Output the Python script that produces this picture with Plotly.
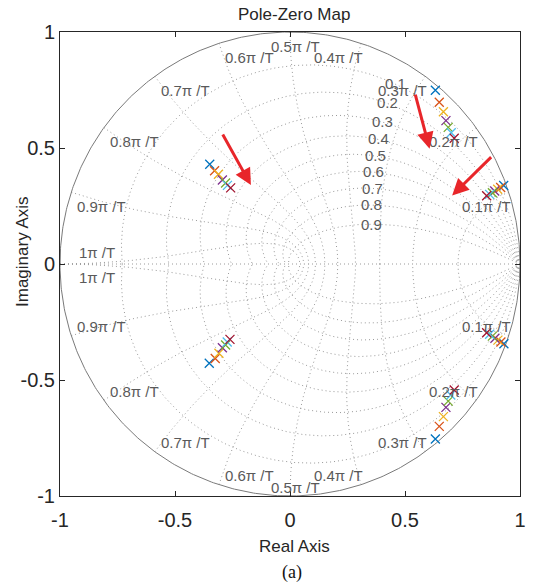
import numpy as np
import plotly.graph_objects as go

# ---------------- data ----------------
series_colors = ["#0072BD", "#D95319", "#EDB120", "#7E2F8E", "#77AC30", "#4DBEEE", "#A2142F"]

# pole group A (near 0.2pi/T .. 0.3pi/T)
polesA_up_re = [0.632, 0.649, 0.667, 0.678, 0.688, 0.701, 0.714]
polesA_up_im = [0.749, 0.697, 0.656, 0.618, 0.589, 0.566, 0.542]
polesA_lo_re = [0.632, 0.649, 0.667, 0.678, 0.688, 0.699, 0.714]
polesA_lo_im = [-0.754, -0.700, -0.658, -0.618, -0.591, -0.565, -0.543]
# pole group B (near 0.1pi/T)
polesB_up_re = [0.929, 0.916, 0.903, 0.890, 0.880, 0.868, 0.855]
polesB_up_im = [0.338, 0.330, 0.322, 0.315, 0.307, 0.300, 0.294]
polesB_lo_re = [0.930, 0.917, 0.904, 0.891, 0.880, 0.868, 0.855]
polesB_lo_im = [-0.344, -0.336, -0.328, -0.320, -0.311, -0.303, -0.296]
# pole group C (left half)
polesC_up_re = [-0.349, -0.328, -0.311, -0.294, -0.280, -0.272, -0.258]
polesC_up_im = [0.430, 0.402, 0.387, 0.362, 0.349, 0.339, 0.328]
polesC_lo_re = [-0.351, -0.325, -0.309, -0.294, -0.280, -0.273, -0.261]
polesC_lo_im = [-0.428, -0.407, -0.385, -0.361, -0.349, -0.336, -0.325]

zeta_values = [0.1, 0.2, 0.3, 0.4, 0.5, 0.6, 0.7, 0.8, 0.9]
wn_values = [0.1, 0.2, 0.3, 0.4, 0.5, 0.6, 0.7, 0.8, 0.9, 1.0]   # multiples of pi/T
wn_labels = ["0.1", "0.2", "0.3", "0.4", "0.5", "0.6", "0.7", "0.8", "0.9", "1"]

tick_vals = [-1, -0.5, 0, 0.5, 1]
tick_text = ["-1", "-0.5", "0", "0.5", "1"]

# arrows: (tail_re, tail_im, head_re, head_im)
arrow_tail_re = [-0.296, 0.543, 0.881]
arrow_tail_im = [0.565, 0.737, 0.467]
arrow_head_re = [-0.170, 0.607, 0.705]
arrow_head_im = [0.340, 0.497, 0.295]

# ---------------- styles ----------------
GRID = "#9a9a9a"
GRID_TXT = "#5a5a5a"
AX = "#262626"
FONT = "Liberation Sans, Arial, sans-serif"

fig = go.Figure()

def add_line(x, y, color=GRID, dash="1px,3px", width=1):
    fig.add_trace(go.Scatter(x=x, y=y, mode="lines", hoverinfo="skip", showlegend=False,
                             line=dict(color=color, width=width, dash=dash)))

# real axis
add_line([-1, 1], [0, 0])

# damping ratio curves
th = np.linspace(0, np.pi, 400)
for z in zeta_values:
    r = np.exp(-z * th / np.sqrt(1 - z * z))
    xs = list(r * np.cos(th)) + [None] + list(r * np.cos(th))
    ys = list(r * np.sin(th)) + [None] + list(-r * np.sin(th))
    add_line(xs, ys)

# natural frequency curves
zz = np.linspace(0, 1, 300)
for w in wn_values:
    s = w * np.pi * (-zz + 1j * np.sqrt(1 - zz * zz))
    p = np.exp(s)
    xs = list(p.real) + [None] + list(p.real)
    ys = list(p.imag) + [None] + list(-p.imag)
    add_line(xs, ys)

# unit circle
tc = np.linspace(0, 2 * np.pi, 600)
add_line(np.cos(tc), np.sin(tc), color="#7a7a7a", dash="solid", width=1)

# poles
for i, c in enumerate(series_colors):
    xs = [polesA_up_re[i], polesA_lo_re[i], polesB_up_re[i], polesB_lo_re[i], polesC_up_re[i], polesC_lo_re[i]]
    ys = [polesA_up_im[i], polesA_lo_im[i], polesB_up_im[i], polesB_lo_im[i], polesC_up_im[i], polesC_lo_im[i]]
    fig.add_trace(go.Scatter(x=xs, y=ys, mode="markers", showlegend=False,
                             marker=dict(symbol="x-thin", size=9, color=c, line=dict(color=c, width=1.3))))

annotations = []
# natural frequency labels
for w, lab in zip(wn_values, wn_labels):
    a = w * np.pi
    cx, cy = np.cos(a), np.sin(a)
    txt = lab + "π /T"
    if w < 0.5:
        xa = "right"; xs_ = 4
    elif w == 0.5:
        xa = "center"; xs_ = 5
    else:
        xa = "left"; xs_ = 4
    if w == 1.0:
        xs_ = 17
        annotations.append(dict(x=cx, y=cy, xref="x", yref="y", text=txt, showarrow=False,
                                xanchor=xa, yanchor="bottom", xshift=xs_, yshift=1,
                                font=dict(family=FONT, size=15, color=GRID_TXT)))
        annotations.append(dict(x=cx, y=-cy, xref="x", yref="y", text=txt, showarrow=False,
                                xanchor=xa, yanchor="top", xshift=xs_, yshift=-3,
                                font=dict(family=FONT, size=15, color=GRID_TXT)))
        continue
    annotations.append(dict(x=cx, y=cy, xref="x", yref="y", text=txt, showarrow=False,
                            xanchor=xa, yanchor="middle", xshift=xs_, yshift=-14,
                            font=dict(family=FONT, size=15, color=GRID_TXT)))
    annotations.append(dict(x=cx, y=-cy, xref="x", yref="y", text=txt, showarrow=False,
                            xanchor=xa, yanchor="middle", xshift=xs_, yshift=9,
                            font=dict(family=FONT, size=15, color=GRID_TXT)))

# damping labels
for z in zeta_values:
    wt = 0.335 * np.pi
    thz = wt * np.sqrt(1 - z * z)
    r = np.exp(-z * wt)
    annotations.append(dict(x=r * np.cos(thz), y=r * np.sin(thz), xref="x", yref="y",
                            text=f"{z:g}", showarrow=False, xanchor="center", yanchor="middle",
                            xshift=2, font=dict(family=FONT, size=15, color=GRID_TXT)))

# red arrows
for tx, ty, hx, hy in zip(arrow_tail_re, arrow_tail_im, arrow_head_re, arrow_head_im):
    annotations.append(dict(x=hx, y=hy, ax=tx, ay=ty, xref="x", yref="y", axref="x", ayref="y",
                            text="", showarrow=True, arrowhead=2, arrowsize=1.1, arrowwidth=3,
                            arrowcolor="#E8262A", standoff=0, startstandoff=0))

# title & axis labels & caption
annotations.append(dict(x=0.5, y=1, xref="paper", yref="paper", text="Pole-Zero Map", showarrow=False,
                        xanchor="center", yanchor="middle", yshift=18, xshift=4,
                        font=dict(family=FONT, size=17, color=AX)))
annotations.append(dict(x=0.5, y=0, xref="paper", yref="paper", text="Real Axis", showarrow=False,
                        xanchor="center", yanchor="middle", yshift=-50, xshift=4,
                        font=dict(family=FONT, size=17, color=AX)))
annotations.append(dict(x=0, y=0.5, xref="paper", yref="paper", text="Imaginary Axis", showarrow=False,
                        textangle=-90, xanchor="center", yanchor="middle", xshift=-38, yshift=12,
                        font=dict(family=FONT, size=17, color=AX)))
annotations.append(dict(x=0.5, y=0, xref="paper", yref="paper", text="(a)", showarrow=False,
                        xanchor="center", yanchor="middle", yshift=-76, xshift=2,
                        font=dict(family="Liberation Serif, Times New Roman, serif", size=18, color="#111111")))

axis_common = dict(range=[-1, 1], tickvals=tick_vals, ticktext=tick_text, ticks="inside", ticklen=5,
                   tickcolor=AX, showline=True, linecolor=AX, linewidth=1, mirror="ticks",
                   showgrid=False, zeroline=False, fixedrange=True,
                   tickfont=dict(family=FONT, size=20, color=AX))

fig.update_layout(
    width=540, height=586,
    margin=dict(l=60, r=20, t=32, b=90),
    paper_bgcolor="white", plot_bgcolor="white",
    xaxis=dict(**axis_common, ticklabelstandoff=6),
    yaxis=dict(**axis_common),
    annotations=annotations,
    showlegend=False,
)

fig.write_html("out.html")
